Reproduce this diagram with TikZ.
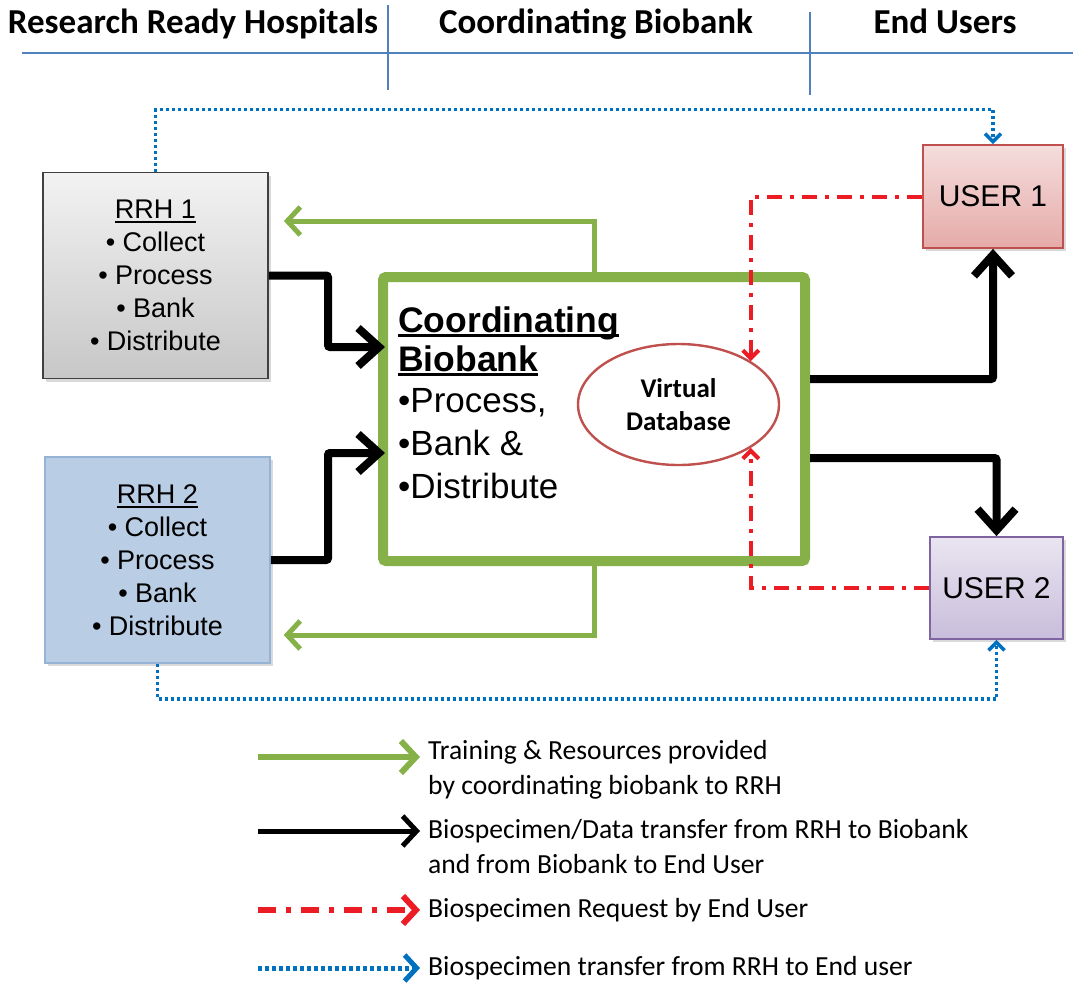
\documentclass[tikz,border=0pt]{standalone}
\usepackage{fontspec}
\setmainfont{Liberation Sans}
\newfontfamily\calibri{Carlito}
\usetikzlibrary{arrows.meta,shapes.geometric,shadows,calc}

\definecolor{hdrblue}{RGB}{79,129,189}
\definecolor{cbgreen}{RGB}{134,177,72}
\definecolor{reqred}{RGB}{236,28,36}
\definecolor{xblue}{RGB}{0,112,192}
\definecolor{dbred}{RGB}{192,80,77}
\definecolor{rrhblue}{RGB}{185,205,229}
\definecolor{rrhblueline}{RGB}{149,179,215}
\definecolor{uonetop}{RGB}{244,222,221}
\definecolor{uonebot}{RGB}{229,170,168}
\definecolor{utwotop}{RGB}{234,229,241}
\definecolor{utwobot}{RGB}{200,189,219}
\definecolor{utwoline}{RGB}{128,100,162}

% underline drawn just below the baseline (crossing descenders)
\newcommand\ulin[1]{\setbox0\hbox{#1}\rlap{\rule[-4.5pt]{\wd0}{2.2pt}}\box0}

\begin{document}
\begin{tikzpicture}[x=1pt,y=-1pt,
  hdr/.style={anchor=base, inner sep=0pt, font=\calibri\bfseries\fontsize{35}{40}\selectfont},
  hdrline/.style={draw=hdrblue, line width=1.6pt},
  boxshadow/.style={drop shadow={opacity=0.3, shadow xshift=3pt, shadow yshift=-3pt}},
  boxtext/.style={align=center, font=\fontsize{27}{33}\selectfont},
  rrhgray/.style={boxtext, draw=black!75, line width=1.8pt, top color=black!5, bottom color=black!22, boxshadow},
  rrhblue/.style={boxtext, draw=rrhblueline, line width=1.5pt, fill=rrhblue, boxshadow},
  userred/.style={draw=dbred, line width=1.8pt, top color=uonetop, bottom color=uonebot, boxshadow, font=\fontsize{30}{36}\selectfont},
  userpurple/.style={draw=utwoline, line width=1.8pt, top color=utwotop, bottom color=utwobot, boxshadow, font=\fontsize{30}{36}\selectfont},
  cbbox/.style={draw=cbgreen, line width=10pt, rounded corners=3pt, fill=white},
  cbhead/.style={anchor=base west, inner sep=0pt, font=\bfseries\fontsize{35.5}{42}\selectfont},
  cbitem/.style={anchor=base west, inner sep=0pt, font=\fontsize{35}{42}\selectfont},
  dbell/.style={ellipse, draw=dbred, line width=2.4pt, fill=white, inner sep=0pt, align=center,
    font=\calibri\bfseries\fontsize{27}{33}\selectfont},
  blk/.style={draw=black, line width=8pt, rounded corners=2pt, -{Straight Barb[length=21pt,width=38pt]}},
  grn/.style={draw=cbgreen, line width=5pt, -{Straight Barb[length=13pt,width=28pt]}},
  req/.style={draw=reqred, line width=4pt, dash pattern=on 15pt off 8pt on 4pt off 8pt,
    -{Straight Barb[length=8pt,width=16pt]}},
  xfer/.style={draw=xblue, line width=3.5pt, dash pattern=on 3pt off 3pt,
    -{Straight Barb[length=8pt,width=16pt]}},
  legtext/.style={anchor=west, inner sep=0pt, align=left, font=\calibri\fontsize{27.6}{35}\selectfont}
]
\useasboundingbox (0,0) rectangle (1073,983);

% column headings
\node[hdr] (hRRH) at (193,33) {Research Ready Hospitals};
\node[hdr] (hCB)  at (596,33) {Coordinating Biobank};
\node[hdr] (hEU)  at (945,33) {End Users};
\draw[hdrline] (22,53) -- (1073,53);
\draw[hdrline] (388,5) -- (388,90);
\draw[hdrline] (810,12) -- (810,95);

% hospitals
\node[rrhgray, minimum width=225pt, minimum height=206pt] (rrh1) at (155.5,275.5)
  {\ulin{RRH 1}\\• Collect\\• Process\\• Bank\\• Distribute};
\node[rrhblue, minimum width=225pt, minimum height=206pt] (rrh2) at (157.5,560)
  {\ulin{RRH 2}\\• Collect\\• Process\\• Bank\\• Distribute};

% coordinating biobank
\node[cbbox, minimum width=422pt, minimum height=284pt] (cb) at (594,419) {};
\node[cbhead] (cbt1) at (398,332) {\ulin{Coordinating}};
\node[cbhead] (cbt2) at (398,371) {\ulin{Biobank}};
\node[cbitem] (cbt3) at (398,412) {•Process,};
\node[cbitem] (cbt4) at (398,455) {•Bank \&};
\node[cbitem] (cbt5) at (398,498) {•Distribute};
\node[dbell, minimum width=201pt, minimum height=121pt] (db) at (678.5,404.5) {Virtual\\Database};

% end users
\node[userred, minimum width=140pt, minimum height=103pt] (u1) at (993,196.5) {USER 1};
\node[userpurple, minimum width=133pt, minimum height=102pt] (u2) at (996.5,588) {USER 2};

% biospecimen / data transfer
\draw[blk] (rrh1.east) -| (328,347) -- ($(cb.west |- 0,347)+(7,0)$);
\draw[blk] (rrh2.east) -| (328,453) -- ($(cb.west |- 0,453)+(7,0)$);
\draw[blk] (cb.east |- 0,379) -| (u1.south);
\draw[blk] (cb.east |- 0,458) -| (u2.north);

% training and resources
\draw[grn] (cb.north) |- ($(rrh1.east |- 0,221)+(15,0)$);
\draw[grn] (cb.south) |- ($(rrh2.east |- 0,635)+(13,0)$);

% requests from end users
\draw[req] (u1.west) -| (db.31.4);
\draw[req] (u2.west) -| (db.-31.4);

% direct transfer from hospitals to end users
\draw[xfer] (rrh1.north) -- ++(0,-62) -| (u1.north);
\draw[xfer] (rrh2.south) -- ++(0,35) -| (u2.south);

% legend
\coordinate (lgA1) at (258,757); \coordinate (lgA2) at (420,757);
\coordinate (lgB1) at (258,831); \coordinate (lgB2) at (420,831);
\coordinate (lgC1) at (258,910); \coordinate (lgC2) at (420,910);
\coordinate (lgD1) at (258,968); \coordinate (lgD2) at (420,968);
\draw[grn, line width=6pt, -{Straight Barb[length=15pt,width=32pt]}] (lgA1) -- (lgA2);
\draw[blk, line width=5pt, -{Straight Barb[length=14pt,width=30pt]}] (lgB1) -- (lgB2);
\draw[req, line width=6pt, dash pattern=on 18pt off 10pt on 5pt off 10pt,
  -{Straight Barb[length=13pt,width=28pt]}] (lgC1) -- (lgC2);
\draw[xfer, line width=5pt, dash pattern=on 3.5pt off 3.5pt,
  -{Straight Barb[length=12pt,width=26pt]}] (lgD1) -- (lgD2);
\node[legtext] (lgAt) at (428,770) {Training \& Resources provided\\by coordinating biobank to RRH};
\node[legtext] (lgBt) at (428,847) {Biospecimen/Data transfer from RRH to Biobank\\and from Biobank to End User};
\node[legtext] (lgCt) at (428,910) {Biospecimen Request by End User};
\node[legtext] (lgDt) at (428,968) {Biospecimen transfer from RRH to End user};
\end{tikzpicture}
\end{document}
